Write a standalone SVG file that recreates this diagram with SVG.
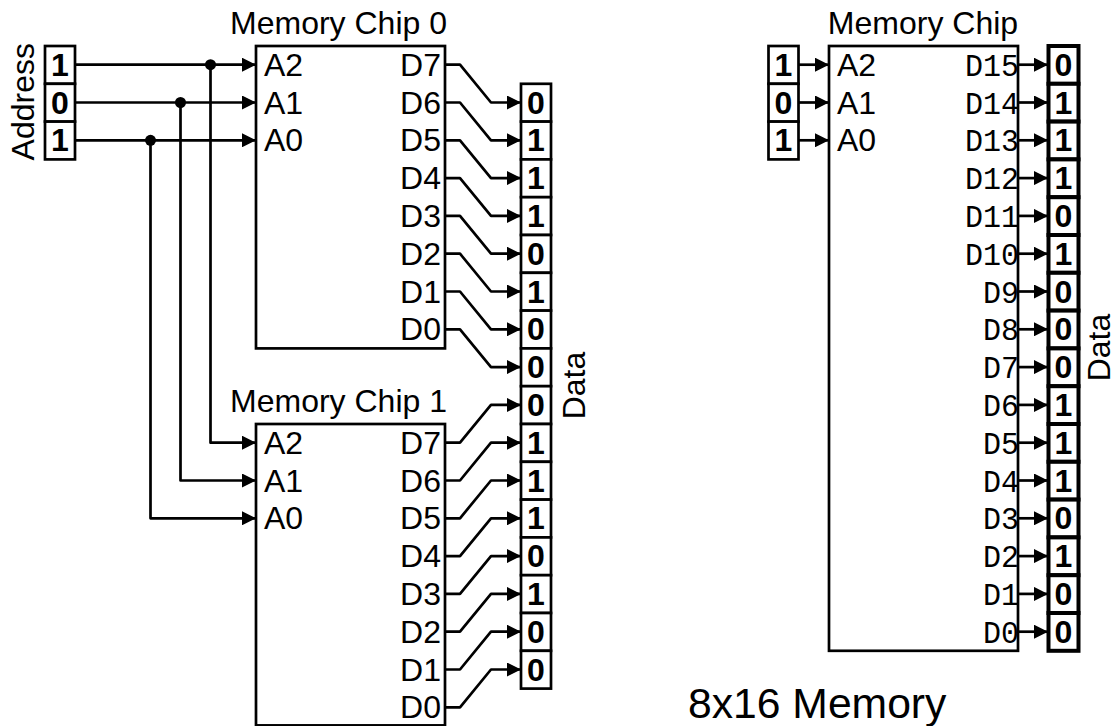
<svg xmlns="http://www.w3.org/2000/svg" width="1117" height="726" viewBox="0 0 1117 726">
<style>
text{font-family:"Liberation Sans",Arial,sans-serif;font-size:32px;fill:#000}
.b{font-weight:bold;text-anchor:middle}
.e{text-anchor:end}
.m{font-family:"Liberation Mono","Courier New",monospace;text-anchor:end}
.c{text-anchor:middle}
.box{fill:#fff;stroke:#000;stroke-width:2.700}
.thick{fill:#fff;stroke:#000;stroke-width:4}
.a{fill:none;stroke:#000;stroke-width:2.700;stroke-linejoin:round;marker-end:url(#ah)}
.chip{fill:none;stroke:#000;stroke-width:2.700}
</style>
<defs>
<marker id="ah" markerUnits="userSpaceOnUse" markerWidth="14" markerHeight="14" refX="14" refY="7" orient="auto" viewBox="0 0 14 14"><path d="M0 0L14 7L0 14Z" fill="#000"/></marker>
<g id="d"><circle r="5.500" fill="#000"/></g>
</defs>
<g id="connectors">
<path class="a" d="M75 64.7H256"/><path class="a" d="M75 102.5H256"/><path class="a" d="M75 140.3H256"/>
<path class="a" d="M210.500 64.700V442.700H256"/><path class="a" d="M180.500 102.500V480.500H256"/><path class="a" d="M150.500 140.300V518.300H256"/>
<use href="#d" x="210.500" y="64.700"/><use href="#d" x="180.500" y="102.500"/><use href="#d" x="150.500" y="140.300"/>
<path class="a" d="M445 64.700H460L491 102.500H521"/>
<path class="a" d="M445 102.500H460L491 140.300H521"/>
<path class="a" d="M445 140.300H460L491 178.100H521"/>
<path class="a" d="M445 178.100H460L491 215.900H521"/>
<path class="a" d="M445 215.900H460L491 253.700H521"/>
<path class="a" d="M445 253.700H460L491 291.500H521"/>
<path class="a" d="M445 291.500H460L491 329.300H521"/>
<path class="a" d="M445 329.300H460L491 367.100H521"/>
<path class="a" d="M445 442.700H460L491 404.900H521"/>
<path class="a" d="M445 480.500H460L491 442.700H521"/>
<path class="a" d="M445 518.300H460L491 480.500H521"/>
<path class="a" d="M445 556.100H460L491 518.300H521"/>
<path class="a" d="M445 593.900H460L491 556.100H521"/>
<path class="a" d="M445 631.700H460L491 593.900H521"/>
<path class="a" d="M445 669.500H460L491 631.700H521"/>
<path class="a" d="M445 707.300H460L491 669.500H521"/>
<path class="a" d="M798 64.700H829"/><path class="a" d="M798 102.500H829"/><path class="a" d="M798 140.300H829"/>
<path class="a" d="M1018 64.700H1048"/><path class="a" d="M1018 102.500H1048"/><path class="a" d="M1018 140.300H1048"/><path class="a" d="M1018 178.100H1048"/>
<path class="a" d="M1018 215.900H1048"/><path class="a" d="M1018 253.700H1048"/><path class="a" d="M1018 291.500H1048"/><path class="a" d="M1018 329.300H1048"/>
<path class="a" d="M1018 367.100H1048"/><path class="a" d="M1018 404.900H1048"/><path class="a" d="M1018 442.700H1048"/><path class="a" d="M1018 480.500H1048"/>
<path class="a" d="M1018 518.300H1048"/><path class="a" d="M1018 556.100H1048"/><path class="a" d="M1018 593.900H1048"/><path class="a" d="M1018 631.700H1048"/>
</g>
<g id="address-left">
<rect class="box" x="45" y="46" width="30" height="37.800"/><rect class="box" x="45" y="83.800" width="30" height="37.800"/><rect class="box" x="45" y="121.600" width="30" height="37.800"/>
<text class="b" x="60" y="75.700">1</text><text class="b" x="60" y="113.500">0</text><text class="b" x="60" y="151.300">1</text>
<text class="c" transform="translate(34 101.700) rotate(-90)">Address</text>
</g>
<g id="chip0">
<rect class="chip" x="256" y="46" width="189" height="302.400"/>
<text class="c" x="338.500" y="33.500">Memory Chip 0</text>
<text x="264" y="75.700">A2</text><text x="264" y="113.500">A1</text><text x="264" y="151.300">A0</text>
<text class="e" x="441" y="75.700">D7</text><text class="e" x="441" y="113.500">D6</text><text class="e" x="441" y="151.300">D5</text><text class="e" x="441" y="189.100">D4</text>
<text class="e" x="441" y="226.900">D3</text><text class="e" x="441" y="264.700">D2</text><text class="e" x="441" y="302.500">D1</text><text class="e" x="441" y="340.300">D0</text>
</g>
<g id="chip1">
<rect class="chip" x="256" y="424" width="189" height="301.400"/>
<text class="c" x="338.500" y="411.500">Memory Chip 1</text>
<text x="264" y="453.700">A2</text><text x="264" y="491.500">A1</text><text x="264" y="529.300">A0</text>
<text class="e" x="441" y="453.700">D7</text><text class="e" x="441" y="491.500">D6</text><text class="e" x="441" y="529.300">D5</text><text class="e" x="441" y="567.100">D4</text>
<text class="e" x="441" y="604.900">D3</text><text class="e" x="441" y="642.700">D2</text><text class="e" x="441" y="680.500">D1</text><text class="e" x="441" y="718.300">D0</text>
</g>
<g id="data-left">
<rect class="box" x="521" y="83.800" width="30" height="37.800"/><rect class="box" x="521" y="121.600" width="30" height="37.800"/><rect class="box" x="521" y="159.400" width="30" height="37.800"/><rect class="box" x="521" y="197.200" width="30" height="37.800"/>
<rect class="box" x="521" y="235" width="30" height="37.800"/><rect class="box" x="521" y="272.800" width="30" height="37.800"/><rect class="box" x="521" y="310.600" width="30" height="37.800"/><rect class="box" x="521" y="348.400" width="30" height="37.800"/>
<rect class="box" x="521" y="386.200" width="30" height="37.800"/><rect class="box" x="521" y="424" width="30" height="37.800"/><rect class="box" x="521" y="461.800" width="30" height="37.800"/><rect class="box" x="521" y="499.600" width="30" height="37.800"/>
<rect class="box" x="521" y="537.400" width="30" height="37.800"/><rect class="box" x="521" y="575.200" width="30" height="37.800"/><rect class="box" x="521" y="613" width="30" height="37.800"/><rect class="box" x="521" y="650.800" width="30" height="37.800"/>
<text class="b" x="536" y="113.500">0</text><text class="b" x="536" y="151.300">1</text><text class="b" x="536" y="189.100">1</text><text class="b" x="536" y="226.900">1</text>
<text class="b" x="536" y="264.700">0</text><text class="b" x="536" y="302.500">1</text><text class="b" x="536" y="340.300">0</text><text class="b" x="536" y="378.100">0</text>
<text class="b" x="536" y="415.900">0</text><text class="b" x="536" y="453.700">1</text><text class="b" x="536" y="491.500">1</text><text class="b" x="536" y="529.300">1</text>
<text class="b" x="536" y="567.100">0</text><text class="b" x="536" y="604.900">1</text><text class="b" x="536" y="642.700">0</text><text class="b" x="536" y="680.500">0</text>
<text class="c" transform="translate(585 385.500) rotate(-90)">Data</text>
</g>
<g id="address-right">
<rect class="box" x="768.500" y="46" width="30" height="37.800"/><rect class="box" x="768.500" y="83.800" width="30" height="37.800"/><rect class="box" x="768.500" y="121.600" width="30" height="37.800"/>
<text class="b" x="783.500" y="75.700">1</text><text class="b" x="783.500" y="113.500">0</text><text class="b" x="783.500" y="151.300">1</text>
</g>
<g id="chip">
<rect class="chip" x="829" y="46" width="189" height="604.800"/>
<text class="c" x="923" y="33.500">Memory Chip</text>
<text x="837" y="75.700">A2</text><text x="837" y="113.500">A1</text><text x="837" y="151.300">A0</text>
<text class="m" x="1019" y="75.700" textLength="54" lengthAdjust="spacingAndGlyphs">D15</text><text class="m" x="1019" y="113.500" textLength="54" lengthAdjust="spacingAndGlyphs">D14</text><text class="m" x="1019" y="151.300" textLength="54" lengthAdjust="spacingAndGlyphs">D13</text><text class="m" x="1019" y="189.100" textLength="54" lengthAdjust="spacingAndGlyphs">D12</text>
<text class="m" x="1019" y="226.900" textLength="54" lengthAdjust="spacingAndGlyphs">D11</text><text class="m" x="1019" y="264.700" textLength="54" lengthAdjust="spacingAndGlyphs">D10</text><text class="m" x="1019" y="302.500" textLength="36" lengthAdjust="spacingAndGlyphs">D9</text><text class="m" x="1019" y="340.300" textLength="36" lengthAdjust="spacingAndGlyphs">D8</text>
<text class="m" x="1019" y="378.100" textLength="36" lengthAdjust="spacingAndGlyphs">D7</text><text class="m" x="1019" y="415.900" textLength="36" lengthAdjust="spacingAndGlyphs">D6</text><text class="m" x="1019" y="453.700" textLength="36" lengthAdjust="spacingAndGlyphs">D5</text><text class="m" x="1019" y="491.500" textLength="36" lengthAdjust="spacingAndGlyphs">D4</text>
<text class="m" x="1019" y="529.300" textLength="36" lengthAdjust="spacingAndGlyphs">D3</text><text class="m" x="1019" y="567.100" textLength="36" lengthAdjust="spacingAndGlyphs">D2</text><text class="m" x="1019" y="604.900" textLength="36" lengthAdjust="spacingAndGlyphs">D1</text><text class="m" x="1019" y="642.700" textLength="36" lengthAdjust="spacingAndGlyphs">D0</text>
</g>
<g id="data-right">
<rect class="thick" x="1048.500" y="46" width="30" height="37.800"/><rect class="thick" x="1048.500" y="83.800" width="30" height="37.800"/><rect class="thick" x="1048.500" y="121.600" width="30" height="37.800"/><rect class="thick" x="1048.500" y="159.400" width="30" height="37.800"/>
<rect class="thick" x="1048.500" y="197.200" width="30" height="37.800"/><rect class="thick" x="1048.500" y="235" width="30" height="37.800"/><rect class="thick" x="1048.500" y="272.800" width="30" height="37.800"/><rect class="thick" x="1048.500" y="310.600" width="30" height="37.800"/>
<rect class="thick" x="1048.500" y="348.400" width="30" height="37.800"/><rect class="thick" x="1048.500" y="386.200" width="30" height="37.800"/><rect class="thick" x="1048.500" y="424" width="30" height="37.800"/><rect class="thick" x="1048.500" y="461.800" width="30" height="37.800"/>
<rect class="thick" x="1048.500" y="499.600" width="30" height="37.800"/><rect class="thick" x="1048.500" y="537.400" width="30" height="37.800"/><rect class="thick" x="1048.500" y="575.200" width="30" height="37.800"/><rect class="thick" x="1048.500" y="613" width="30" height="37.800"/>
<text class="b" x="1063.500" y="75.700">0</text><text class="b" x="1063.500" y="113.500">1</text><text class="b" x="1063.500" y="151.300">1</text><text class="b" x="1063.500" y="189.100">1</text>
<text class="b" x="1063.500" y="226.900">0</text><text class="b" x="1063.500" y="264.700">1</text><text class="b" x="1063.500" y="302.500">0</text><text class="b" x="1063.500" y="340.300">0</text>
<text class="b" x="1063.500" y="378.100">0</text><text class="b" x="1063.500" y="415.900">1</text><text class="b" x="1063.500" y="453.700">1</text><text class="b" x="1063.500" y="491.500">1</text>
<text class="b" x="1063.500" y="529.300">0</text><text class="b" x="1063.500" y="567.100">1</text><text class="b" x="1063.500" y="604.900">0</text><text class="b" x="1063.500" y="642.700">0</text>
<text class="c" transform="translate(1110 347.500) rotate(-90)">Data</text>
</g>
<g id="caption"><text x="688" y="718" style="font-size:42.670px">8x16 Memory</text></g>
</svg>
